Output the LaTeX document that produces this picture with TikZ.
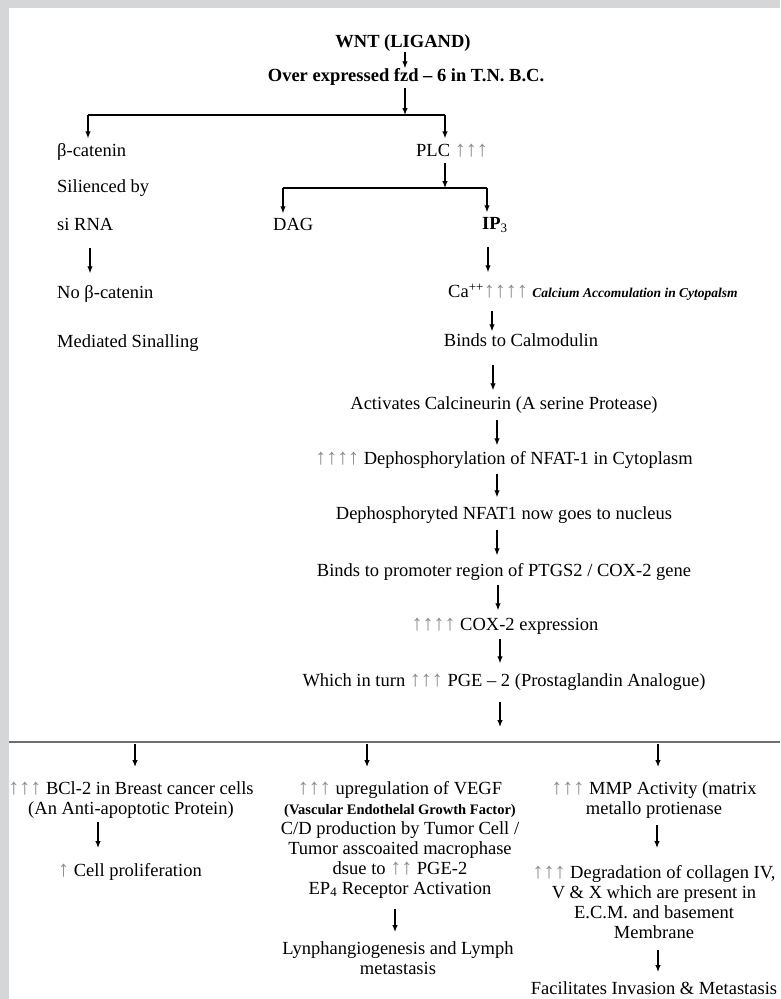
\documentclass[tikz,border=0pt]{standalone}
\usepackage{fontspec}
\setmainfont{Liberation Serif}
\usetikzlibrary{arrows.meta}
\definecolor{bggray}{HTML}{D5D6D8}
\definecolor{upgray}{HTML}{8C8C8C}
\definecolor{linegray}{HTML}{6E6E6E}
\newcommand{\upar}[1]{\textcolor{upgray}{\fontsize{22}{20}\selectfont #1}}
\begin{document}
\begin{tikzpicture}[x=1pt,y=-1pt,
  txt/.style={inner sep=0pt, font=\fontsize{18.5}{20}\selectfont, text height=13pt, text depth=4pt},
  txtb/.style={txt, font=\fontsize{18.5}{20}\selectfont\bfseries},
  txtl/.style={txt, anchor=west},
  multi/.style={inner sep=0pt, font=\fontsize{18.5}{20}\selectfont, align=center, anchor=north},
  arr/.style={line width=1.2pt, -{Latex[length=7pt,width=5.5pt]}},
  branch/.style={line width=1.2pt},
  bottomline/.style={line width=2.6pt, draw=linegray}
]
\useasboundingbox (0,0) rectangle (780,999);
\fill[bggray] (0,0) rectangle (780,999);
\fill[white] (9,8) rectangle (780,999);

% top
\node[txtb] (wnt) at (403,43) {WNT (LIGAND)};
\node[txtb] (fzd) at (406,77) {Over expressed fzd – 6 in T.N. B.C.};
\draw[arr, shorten <=0pt, shorten >=0pt] ([xshift=2pt]wnt.south) -- ([xshift=2pt]wnt.south |- fzd.north);
\coordinate (jt) at (405,115);
\coordinate (jl) at (88,115);
\coordinate (jr) at (445,115);
\draw[arr, shorten <=2pt] (fzd.south -| jt) -- (jt);
\draw[branch] (jl) -- (jr);

% left column
\node[txtl] (bcat) at (57,152) {β-catenin};
\node[txtl] (silenced) at (57,188) {Silienced by};
\node[txtl] (sirna) at (57,226) {si RNA};
\node[txtl] (nobcat) at (57,294) {No β-catenin};
\node[txtl] (mediated) at (57,343) {Mediated Sinalling};
\draw[arr, shorten >=5pt] (jl) -- (jl |- bcat.north);
\draw[arr, shorten <=13pt, shorten >=12pt] ([xshift=2pt]sirna.south -| jl) -- ([xshift=2pt]nobcat.north -| jl);

% PLC branch
\node[txtl] (plc) at (416,152) {PLC \upar{↑↑↑}};
\draw[arr, shorten >=5pt] (jr) -- (jr |- plc.north);
\coordinate (jp) at (445,188);
\coordinate (jd) at (283,188);
\coordinate (ji) at (487,188);
\draw[arr, shorten <=2pt] (plc.south -| jp) -- (jp);
\draw[branch] (jd) -- (ji);
\node[txtl] (dag) at (273,226) {DAG};
\node[txtl] (ip3) at (482,225) {\textbf{IP}\textsubscript{3}};
\draw[arr, shorten >=4pt] (jd) -- (jd |- dag.north);
\draw[arr, shorten >=4pt] (ji) -- (ji |- ip3.north);

% main column
\node[txtl] (ca) at (448,293) {Ca\textsuperscript{++}\upar{↑↑↑↑} {\fontsize{13.5}{15}\selectfont\bfseries\itshape Calcium Accomulation in Cytopalsm}};
\draw[arr, shorten <=13pt, shorten >=12pt] ([xshift=1pt]ip3.south -| ji) -- ([xshift=1pt]ca.north -| ji);
\node[txt] (cal) at (521,342) {Binds to Calmodulin};
\draw[arr, shorten <=9pt, shorten >=2pt] ([xshift=44pt]ca.south west) -- ([xshift=44pt]ca.south west |- cal.north);
\node[txt] (calc) at (504,405) {Activates Calcineurin (A serine Protease)};
\draw[arr, shorten <=14pt, shorten >=6pt] ([xshift=-28pt]cal.south) -- ([xshift=-28pt]cal.south |- calc.north);
\node[txt] (deph) at (504,460) {\upar{↑↑↑↑} Dephosphorylation of NFAT-1 in Cytoplasm};
\draw[arr, shorten <=6pt, shorten >=6pt] ([xshift=-7pt]calc.south) -- ([xshift=-7pt]deph.north);
\node[txt] (nfat) at (504,515) {Dephosphoryted NFAT1 now goes to nucleus};
\draw[arr, shorten <=5pt, shorten >=9pt] ([xshift=-7pt]deph.south) -- ([xshift=-7pt]nfat.north);
\node[txt] (prom) at (504,572) {Binds to promoter region of PTGS2 / COX-2 gene};
\draw[arr, shorten <=6pt, shorten >=8pt] ([xshift=-7pt]nfat.south) -- ([xshift=-7pt]prom.north);
\node[txt] (cox) at (505,626) {\upar{↑↑↑↑} COX-2 expression};
\draw[arr, shorten <=4pt, shorten >=7pt] ([xshift=-6pt]prom.south) -- ([xshift=-6pt]prom.south |- cox.north);
\node[txt] (pge) at (504,682) {Which in turn \upar{↑↑↑} PGE – 2 (Prostaglandin Analogue)};
\draw[arr, shorten <=4pt, shorten >=10pt] ([xshift=-5pt]cox.south) -- ([xshift=-4pt]pge.north);
\coordinate (pgeend) at (500,742);
\draw[arr, shorten <=11pt, shorten >=15pt] ([xshift=-4pt]pge.south) -- (pgeend);

% bottom line
\coordinate (bl) at (9,742);
\coordinate (br) at (780,742);
\draw[bottomline] (bl) -- (br);
\coordinate (c1) at (135,742);
\coordinate (c2) at (367,742);
\coordinate (c3) at (658,742);

% column 1
\node[multi] (bcl) at (131,781) {\upar{↑↑↑} BCl-2 in Breast cancer cells\\(An Anti-apoptotic Protein)};
\node[multi] (cellp) at (130,863) {\upar{↑} Cell proliferation};
\draw[arr, shorten <=2pt, shorten >=14pt] (c1) -- (c1 |- bcl.north);
\draw[arr, shorten <=4pt, shorten >=15pt] ([xshift=-33pt]bcl.south) -- ([xshift=-33pt]bcl.south |- cellp.north);

% column 2
\node[multi] (vegf) at (400,781) {\upar{↑↑↑} upregulation of VEGF\\{\fontsize{14.5}{20}\selectfont\bfseries (Vascular Endothelal Growth Factor)}\\C/D production by Tumor Cell /\\Tumor asscoaited macrophase\\dsue to \upar{↑↑} PGE-2\\EP\textsubscript{4} Receptor Activation};
\node[multi] (lymph) at (398,941) {Lynphangiogenesis and Lymph\\metastasis};
\draw[arr, shorten <=2pt, shorten >=14pt] (c2) -- (c2 |- vegf.north);
\draw[arr, shorten <=11pt, shorten >=9pt] ([xshift=-5pt]vegf.south) -- ([xshift=-5pt]vegf.south |- lymph.north);

% column 3
\node[multi] (mmp) at (654,781) {\upar{↑↑↑} MMP Activity (matrix\\metallo protienase};
\node[multi] (degr) at (654,865) {\upar{↑↑↑} Degradation of collagen IV,\\V \& X which are present in\\E.C.M. and basement\\Membrane};
\node[multi] (fac) at (654,981) {Facilitates Invasion \& Metastasis};
\draw[arr, shorten <=2pt, shorten >=14pt] (c3) -- (c3 |- mmp.north);
\draw[arr, shorten <=7pt, shorten >=17pt] ([xshift=3pt]mmp.south) -- ([xshift=3pt]mmp.south |- degr.north);
\draw[arr, shorten <=11pt, shorten >=9pt] ([xshift=4pt]degr.south) -- ([xshift=4pt]degr.south |- fac.north);
\end{tikzpicture}
\end{document}
